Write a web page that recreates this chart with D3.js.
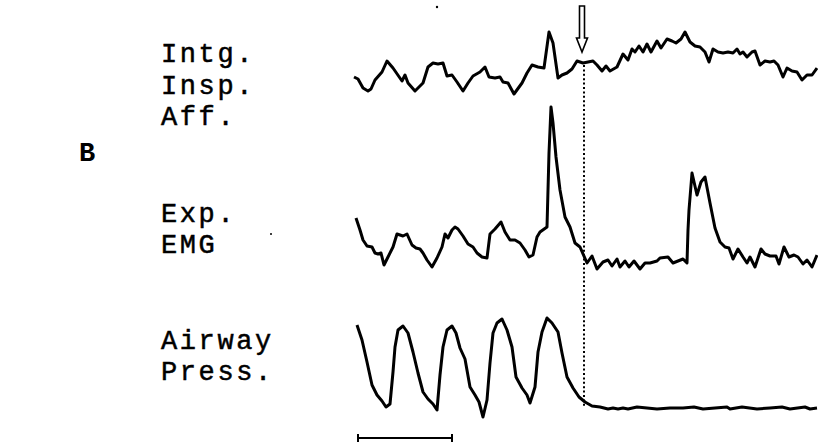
<!DOCTYPE html>
<html>
<head>
<meta charset="utf-8">
<script src="https://cdn.jsdelivr.net/npm/d3@7"></script>
<style>
  body { margin: 0; background: #fff; }
  text { font-family: "Liberation Mono", "Courier New", monospace; fill: #000; }
</style>
</head>
<body>
<div id="chart"></div>
<script>
const inspAfferent = [
  [0,23],[4,21],[9,12],[14,9],[17,11],[21,20],[28,28],[33,39],[39,32],[48,19],[51,25],[54,17],
  [61,9],[69,17],[74,33],[79,37],[84,36],[89,37],[93,24],[98,25],[103,18],[109,9],[114,17],[119,24],
  [126,28],[131,33],[135,23],[141,22],[146,23],[149,18],[154,17],[160,6],[168,17],[173,27],[178,35],
  [184,33],[190,32],[195,68],[199,57],[204,22],[208,25],[213,27],[218,31],[223,39],[229,37],[234,38],
  [239,39],[243,35],[248,29],[252,34],[256,29],[263,33],[269,46],[274,40],[278,51],[281,48],[285,54],
  [289,48],[293,56],[297,48],[303,59],[307,52],[313,61],[318,59],[322,57],[327,61],[331,68],[336,58],
  [341,54],[346,53],[351,48],[355,38],[359,51],[364,48],[369,47],[374,48],[379,47],[383,51],[386,46],
  [389,48],[393,43],[398,48],[401,49],[406,35],[411,39],[416,38],[420,39],[424,35],[429,23],[433,32],
  [438,29],[443,28],[448,20],[453,25],[458,25],[463,32]
];
const expEMG = [
  [2,57],[6,45],[9,35],[13,29],[18,28],[21,22],[24,21],[27,22],[30,10],[34,18],[39,28],[43,41],
  [46,40],[49,39],[53,41],[58,30],[62,27],[66,26],[69,22],[73,15],[78,8],[83,17],[88,28],[91,41],
  [94,37],[98,45],[101,48],[104,46],[109,39],[114,31],[119,28],[123,22],[128,18],[133,17],[136,41],
  [141,46],[147,53],[151,43],[156,35],[161,35],[166,32],[171,25],[175,18],[179,20],[183,38],[186,43],
  [193,48],[195,122],[197,168],[199,152],[202,118],[206,85],[211,58],[216,48],[221,32],[226,28],
  [233,12],[238,19],[243,6],[249,13],[254,15],[258,9],[263,16],[266,8],[271,14],[275,8],[280,14],
  [286,6],[291,12],[296,12],[303,14],[306,17],[314,18],[319,12],[324,14],[329,16],[333,12],[334,45],
  [335,65],[338,102],[343,80],[347,93],[351,98],[356,72],[361,47],[366,33],[371,28],[375,27],[379,16],
  [384,26],[389,18],[393,12],[396,18],[401,8],[407,26],[411,21],[416,19],[422,19],[425,11],[430,28],
  [435,18],[440,20],[444,18],[449,11],[453,15],[458,8],[463,20]
];
const airwayPress = [
  [3,95],[8,80],[13,58],[18,35],[23,25],[28,19],[32,13],[36,16],[39,48],[41,73],[44,90],[49,94],
  [54,87],[59,68],[64,47],[69,28],[74,21],[79,16],[83,10],[86,45],[89,73],[93,90],[98,94],[102,87],
  [106,72],[111,61],[116,33],[121,25],[125,18],[129,3],[133,20],[136,57],[139,87],[143,97],[148,101],
  [153,90],[158,73],[162,43],[168,32],[173,25],[176,17],[181,33],[184,68],[188,88],[193,102],[198,97],
  [204,88],[208,67],[213,43],[219,32],[225,23],[231,18],[238,14],[246,13],[254,11],[259,12],[264,11],
  [269,12],[274,11],[283,13],[293,12],[303,11],[316,12],[329,12],[340,13],[349,11],[373,13],[376,11],
  [388,13],[403,11],[416,12],[428,13],[436,11],[451,13],[456,11],[463,12]
];

const traceLabels = [["Intg.", "Insp.", "Aff."], ["Exp.", "EMG"], ["Airway", "Press."]];
const stimulusSample = 229;
const scaleBar = [4, 98];
const panelLabel = "B";

const width = 818, height = 445;
const svg = d3.select("#chart").append("svg")
    .attr("width", width).attr("height", height);

const x = d3.scaleLinear().domain([0, 464]).range([354, 818]);

// one vertical scale per trace
const yScales = [
    d3.scaleLinear().domain([0, 100]).range([100, 0]),
    d3.scaleLinear().domain([0, 100]).range([275, 175]),
    d3.scaleLinear().domain([0, 100]).range([420, 320])
];
const traces = [inspAfferent, expEMG, airwayPress];

// dotted stimulus marker
svg.append("line")
    .attr("x1", x(stimulusSample + 1)).attr("x2", x(stimulusSample + 1))
    .attr("y1", yScales[0](35)).attr("y2", yScales[2](12))
    .attr("stroke", "#000").attr("stroke-width", 2)
    .attr("stroke-dasharray", "2,2.4");

traces.forEach((data, i) => {
    const line = d3.line()
        .x(d => x(d[0]))
        .y(d => yScales[i](d[1]));
    svg.append("path")
        .datum(data)
        .attr("d", line)
        .attr("fill", "none")
        .attr("stroke", "#000")
        .attr("stroke-width", 3)
        .attr("stroke-linejoin", "round");
});

// hollow arrow above the stimulus point
const ax = x(stimulusSample - 1);
svg.append("path")
    .attr("d", `M${ax - 2.5},6 L${ax + 2.5},6 L${ax + 2.5},38 L${ax + 5.5},38 L${ax},52 L${ax - 5.5},38 L${ax - 2.5},38 Z`)
    .attr("fill", "#fff").attr("stroke", "#000").attr("stroke-width", 1.6)
    .attr("stroke-linejoin", "miter");

// labels
const labelY = [[62, 94, 125], [222, 253], [349, 380]];
traceLabels.forEach((lines, i) => {
    lines.forEach((t, j) => {
        svg.append("text")
            .attr("x", 161).attr("y", labelY[i][j])
            .attr("font-size", 27)
            .attr("letter-spacing", 2.6)
            .attr("stroke", "#000").attr("stroke-width", 0.5)
            .text(t);
    });
});

svg.append("text")
    .attr("x", 79).attr("y", 161)
    .attr("font-size", 27).attr("font-weight", "bold")
    .text(panelLabel);

// time scale bar
const barY = 438;
svg.append("line")
    .attr("x1", x(scaleBar[0])).attr("x2", x(scaleBar[1]))
    .attr("y1", barY).attr("y2", barY)
    .attr("stroke", "#000").attr("stroke-width", 2);
scaleBar.forEach(s => {
    svg.append("line")
        .attr("x1", x(s)).attr("x2", x(s))
        .attr("y1", barY - 4).attr("y2", barY + 4)
        .attr("stroke", "#000").attr("stroke-width", 2);
});

// stray specks from the scan
svg.append("circle").attr("cx", 437).attr("cy", 7).attr("r", 1.2).attr("fill", "#000");
svg.append("circle").attr("cx", 271).attr("cy", 234).attr("r", 1).attr("fill", "#000");
</script>
</body>
</html>
